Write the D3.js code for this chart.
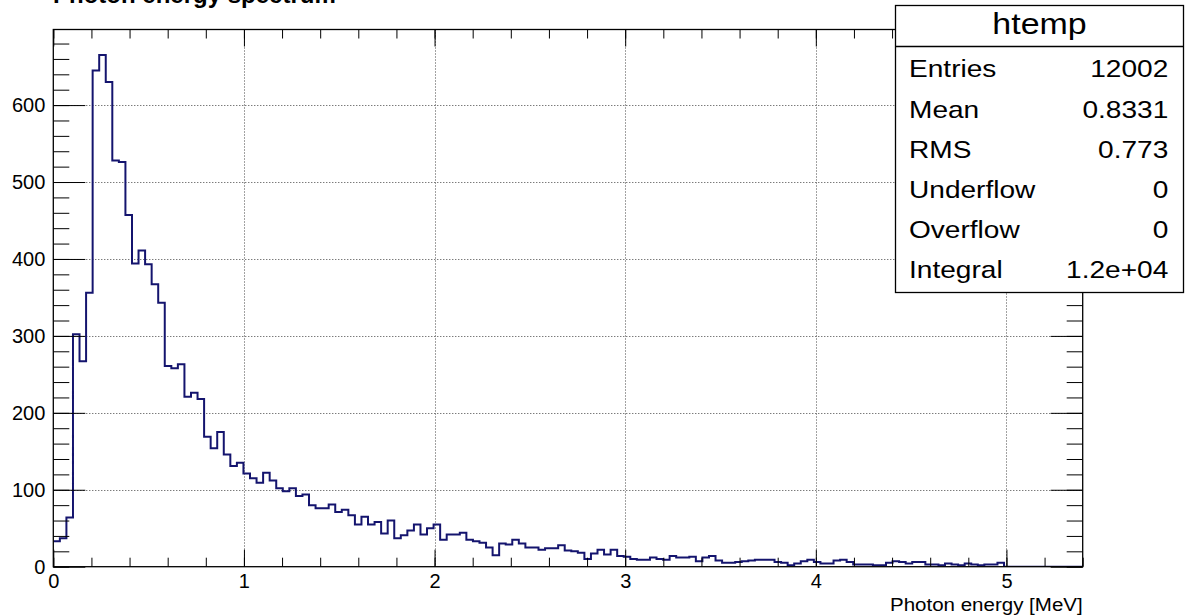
<!DOCTYPE html>
<html>
<head>
<meta charset="utf-8">
<script src="https://cdn.jsdelivr.net/npm/d3@7"></script>
<style>
  html, body { margin: 0; padding: 0; background: #fff; }
  svg { display: block; }
  text { font-family: "Liberation Sans", Arial, Helvetica, sans-serif; }
</style>
</head>
<body>
<svg id="chart" width="1185" height="616"></svg>
<script>
// ---------------- data ----------------
const chartTitle = "Photon energy spectrum";
const xAxisLabel = "Photon energy [MeV]";
const xRange = [0, 5.4];
const yRange = [0, 698.25];
const counts = [
  33, 37, 64, 302, 267, 356, 645, 665, 630, 528,
  526, 457, 394, 411, 393, 367, 343, 261, 258, 263,
  221, 226, 218, 169, 154, 175, 146, 131, 135, 121,
  115, 109, 122, 112, 102, 98, 102, 92, 94, 80,
  76, 76, 81, 71, 74, 67, 55, 65, 55, 58,
  43, 60, 37, 41, 47, 55, 42, 50, 55, 35,
  42, 42, 44, 35, 33, 31, 25, 15, 30, 29,
  35, 30, 25, 25, 22, 24, 24, 28, 21, 20,
  18, 10, 17, 22, 16, 22, 14, 13, 10, 9,
  9, 12, 10, 9, 14, 12, 12, 13, 7, 12,
  14, 8, 5, 5, 6, 7, 8, 9, 9, 9,
  6, 5, 2, 4, 7, 9, 6, 4, 4, 8,
  9, 6, 3, 3, 3, 2, 2, 5, 7, 6,
  4, 6, 6, 3, 3, 2, 4, 3, 2, 4,
  3, 2, 3, 3, 5, 0, 0, 0, 0, 0,
  0, 0, 0, 0, 0, 0, 0
];
const xMajorTicks = [0, 1, 2, 3, 4, 5];
const yMajorTicks = [0, 100, 200, 300, 400, 500, 600];
const statsName = "htemp";
const statsLabels = ["Entries", "Mean", "RMS", "Underflow", "Overflow", "Integral"];
const statsValues = ["12002", "0.8331", "0.773", "0", "0", "1.2e+04"];

// ---------------- layout ----------------
const frame = { left: 53.3, right: 1082.7, top: 29.5, bottom: 566.7 };
const svg = d3.select("#chart");
svg.append("rect").attr("width", 1185).attr("height", 616).attr("fill", "#fff");

const x = d3.scaleLinear().domain(xRange).range([frame.left, frame.right]);
const y = d3.scaleLinear().domain(yRange).range([frame.bottom, frame.top]);

const binWidth = (xRange[1] - xRange[0]) / counts.length;
const xMinor = d3.range(0, 5.4001, 0.2).map(v => +v.toFixed(2));
const yMinor = d3.range(0, 700, 20);

// title (almost entirely above the visible area, as in the reference)
svg.append("text")
  .attr("x", 53).attr("y", 3)
  .attr("font-size", 24).attr("font-weight", "bold")
  .attr("fill", "#000")
  .text(chartTitle);

// grid
const grid = svg.append("g").attr("stroke", "#444").attr("stroke-width", 1)
  .attr("stroke-dasharray", "1,2");
grid.selectAll("line.gx").data(xMajorTicks.filter(d => d > 0)).join("line")
  .attr("class", "gx")
  .attr("x1", d => Math.round(x(d)) + 0.5).attr("x2", d => Math.round(x(d)) + 0.5)
  .attr("y1", frame.top).attr("y2", frame.bottom);
grid.selectAll("line.gy").data(yMajorTicks.filter(d => d > 0)).join("line")
  .attr("class", "gy")
  .attr("y1", d => Math.round(y(d)) + 0.5).attr("y2", d => Math.round(y(d)) + 0.5)
  .attr("x1", frame.left).attr("x2", frame.right);

// histogram
svg.append("clipPath").attr("id", "clip").append("rect")
  .attr("x", frame.left).attr("y", frame.top)
  .attr("width", frame.right - frame.left).attr("height", frame.bottom - frame.top);

const pts = counts.map((c, i) => [xRange[0] + i * binWidth, c]);
pts.push([xRange[1], counts[counts.length - 1]]);
const line = d3.line().x(d => x(d[0])).y(d => y(d[1])).curve(d3.curveStepAfter);
svg.append("path")
  .attr("clip-path", "url(#clip)")
  .attr("d", line(pts))
  .attr("fill", "none")
  .attr("stroke", "#14146e")
  .attr("stroke-width", 2)
  .attr("stroke-linejoin", "miter");

// axes
function styleAxis(g) {
  g.select(".domain").remove();
  g.selectAll(".tick line").attr("stroke", "#000").attr("stroke-width", 1);
  g.selectAll("text").attr("fill", "#000");
}
const fontSize = 20;

// left
svg.append("g").attr("transform", `translate(${frame.left},0)`)
  .call(d3.axisLeft(y).tickValues(yMinor).tickSize(-16).tickFormat(""))
  .call(styleAxis);
svg.append("g").attr("transform", `translate(${frame.left},0)`)
  .call(d3.axisLeft(y).tickValues(yMajorTicks).tickSize(-32).tickPadding(8).tickFormat(d3.format("d")))
  .call(styleAxis)
  .call(g => g.selectAll("text").attr("font-size", fontSize).attr("font-family", "Liberation Sans, Arial, sans-serif"));
// right
svg.append("g").attr("transform", `translate(${frame.right},0)`)
  .call(d3.axisRight(y).tickValues(yMinor).tickSize(-16).tickFormat(""))
  .call(styleAxis);
svg.append("g").attr("transform", `translate(${frame.right},0)`)
  .call(d3.axisRight(y).tickValues(yMajorTicks).tickSize(-32).tickFormat(""))
  .call(styleAxis);
// bottom
svg.append("g").attr("transform", `translate(0,${frame.bottom})`)
  .call(d3.axisBottom(x).tickValues(xMinor).tickSize(-9).tickFormat(""))
  .call(styleAxis);
svg.append("g").attr("transform", `translate(0,${frame.bottom})`)
  .call(d3.axisBottom(x).tickValues(xMajorTicks).tickSize(-17).tickPadding(7).tickFormat(d3.format("d")))
  .call(styleAxis)
  .call(g => g.selectAll("text").attr("font-size", fontSize).attr("font-family", "Liberation Sans, Arial, sans-serif"));
// top
svg.append("g").attr("transform", `translate(0,${frame.top})`)
  .call(d3.axisTop(x).tickValues(xMinor).tickSize(-9).tickFormat(""))
  .call(styleAxis);
svg.append("g").attr("transform", `translate(0,${frame.top})`)
  .call(d3.axisTop(x).tickValues(xMajorTicks).tickSize(-17).tickFormat(""))
  .call(styleAxis);

// frame
svg.append("rect")
  .attr("x", frame.left).attr("y", frame.top)
  .attr("width", frame.right - frame.left).attr("height", frame.bottom - frame.top)
  .attr("fill", "none").attr("stroke", "#000").attr("stroke-width", 1.3);

// x axis title
svg.append("text")
  .attr("transform", `translate(${frame.right},611) scale(1.08,1)`)
  .attr("text-anchor", "end")
  .attr("font-size", 19)
  .attr("fill", "#000")
  .text(xAxisLabel);

// stats box
const box = { left: 895.5, top: 5.5, right: 1183.5, bottom: 292.5, divider: 46.5 };
const sb = svg.append("g");
sb.append("rect")
  .attr("x", box.left).attr("y", box.top)
  .attr("width", box.right - box.left).attr("height", box.bottom - box.top)
  .attr("fill", "#fff").attr("stroke", "#000").attr("stroke-width", 1.3);
sb.append("line")
  .attr("x1", box.left).attr("x2", box.right)
  .attr("y1", box.divider).attr("y2", box.divider)
  .attr("stroke", "#000").attr("stroke-width", 1.3);
const stretch = 1.17;
sb.append("text")
  .attr("transform", `translate(${(box.left + box.right) / 2},33.5) scale(${stretch},1)`)
  .attr("text-anchor", "middle")
  .attr("font-size", 29)
  .attr("fill", "#000")
  .text(statsName);
const rowY = i => 77.3 + i * 40.2;
sb.selectAll("text.lab").data(statsLabels).join("text")
  .attr("class", "lab")
  .attr("transform", (d, i) => `translate(909,${rowY(i)}) scale(${stretch},1)`)
  .attr("font-size", 24)
  .attr("fill", "#000")
  .text(d => d);
sb.selectAll("text.val").data(statsValues).join("text")
  .attr("class", "val")
  .attr("transform", (d, i) => `translate(1168.3,${rowY(i)}) scale(${stretch},1)`)
  .attr("text-anchor", "end")
  .attr("font-size", 24)
  .attr("fill", "#000")
  .text(d => d);
</script>
</body>
</html>
